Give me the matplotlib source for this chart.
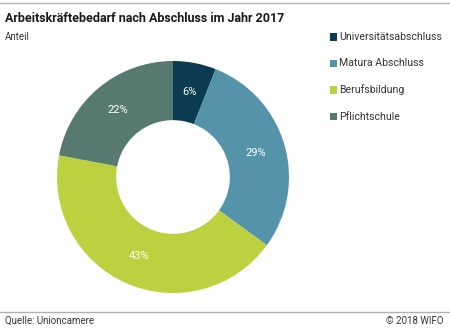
import matplotlib
matplotlib.use("Agg")
import matplotlib.pyplot as plt
from matplotlib.patches import Rectangle
from matplotlib.lines import Line2D

# Data
labels = ["Universitätsabschluss", "Matura Abschluss", "Berufsbildung", "Pflichtschule"]
shares = [6, 29, 43, 22]
colors = ["#0b3b50", "#5593aa", "#bdd03f", "#567a70"]

plt.rcParams['font.family'] = ['Roboto', 'DejaVu Sans']

W, H = 450, 330
fig = plt.figure(figsize=(W / 100, H / 100), dpi=100)

# Donut position in pixels
cx, cy, R = 173, 177, 116
ax = fig.add_axes([(cx - R) / W, (H - cy - R) / H, 2 * R / W, 2 * R / H])
wedges, texts = ax.pie(shares, colors=colors, startangle=90, counterclock=False,
                       radius=1, wedgeprops=dict(width=0.51, edgecolor="none"),
                       labels=[f"{v}%" for v in shares], labeldistance=0.745,
                       textprops=dict(color="white", fontsize=8, ha="center", va="center"))
ax.set_xlim(-1, 1)
ax.set_ylim(-1, 1)
ax.set_aspect("equal")
ax.axis("off")

# Frame lines
fig.add_artist(Line2D([0, 1], [1 - 3 / H, 1 - 3 / H], color="#b0b0b0", lw=1))
fig.add_artist(Line2D([0, 1], [1 - 312 / H, 1 - 312 / H], color="#b0b0b0", lw=1))

# Texts
fig.text(5 / W, 1 - 18 / H, "Arbeitskräftebedarf nach Abschluss im Jahr 2017",
         fontsize=9, fontweight="bold", va="center", ha="left", color="#1a1a1a")
fig.text(5 / W, 1 - 37 / H, "Anteil", fontsize=7, va="center", ha="left", color="#333333")
fig.text(5 / W, 1 - 321 / H, "Quelle: Unioncamere", fontsize=7, va="center", ha="left", color="#333333")
fig.text(443 / W, 1 - 321 / H, "© 2018 WIFO", fontsize=7, va="center", ha="right", color="#333333")

# Legend
for i, (lab, col) in enumerate(zip(labels, colors)):
    y = 37 + i * 26.5
    fig.add_artist(Rectangle((330 / W, 1 - (y + 3.5) / H), 7 / W, 7 / H,
                             facecolor=col, edgecolor="none", transform=fig.transFigure))
    fig.text(339 / W, 1 - y / H, lab, fontsize=7.6, va="center", ha="left", color="#333333")

fig.savefig("out.png", dpi=100)
